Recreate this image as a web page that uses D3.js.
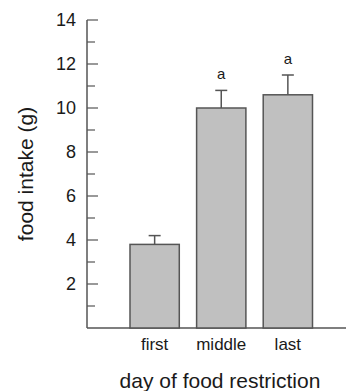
<!DOCTYPE html>
<html>
<head>
<meta charset="utf-8">
<script src="https://d3js.org/d3.v7.min.js"></script>
<style>
  body { margin: 0; background: #fff; }
  text { font-family: "Liberation Sans", Arial, sans-serif; fill: #1a1a1a; }
</style>
</head>
<body>
<div id="chart"></div>
<script>
var svgWidth = 346;
var svgHeight = 391;

// data
var days = ["first", "middle", "last"];
var intake = [3.8, 10.0, 10.6];
var errUpper = [4.2, 10.8, 11.5];
var sigLabels = ["", "a", "a"];
var majorTicks = [2, 4, 6, 8, 10, 12, 14];
var minorTicks = [1, 3, 5, 7, 9, 11, 13];

var axisColor = "#555";

var svg = d3.select("#chart")
  .append("svg")
  .attr("width", svgWidth)
  .attr("height", svgHeight);

var yScale = d3.scaleLinear()
  .domain([0, 14])
  .range([328, 20]);

var xScale = d3.scaleBand()
  .domain(days)
  .range([130, 312.5])
  .paddingInner(0.26)
  .paddingOuter(0);

var axisX = 87;

// y axis line
svg.append("line")
  .attr("x1", axisX).attr("x2", axisX)
  .attr("y1", yScale(14)).attr("y2", yScale(0))
  .attr("stroke", axisColor).attr("stroke-width", 1.5);

// x axis line
svg.append("line")
  .attr("x1", axisX).attr("x2", 346)
  .attr("y1", yScale(0)).attr("y2", yScale(0))
  .attr("stroke", axisColor).attr("stroke-width", 1.5);

// major ticks (inward)
svg.selectAll(".major")
  .data(majorTicks)
  .enter()
  .append("line")
  .attr("x1", axisX).attr("x2", axisX + 11)
  .attr("y1", d => yScale(d)).attr("y2", d => yScale(d))
  .attr("stroke", axisColor).attr("stroke-width", 1.2);

// minor ticks
svg.selectAll(".minor")
  .data(minorTicks)
  .enter()
  .append("line")
  .attr("x1", axisX).attr("x2", axisX + 8)
  .attr("y1", d => yScale(d)).attr("y2", d => yScale(d))
  .attr("stroke", axisColor).attr("stroke-width", 1.2);

// tick labels
svg.selectAll(".ylab")
  .data(majorTicks)
  .enter()
  .append("text")
  .attr("x", 76)
  .attr("y", d => yScale(d))
  .attr("dy", "0.36em")
  .attr("text-anchor", "end")
  .attr("font-size", 18)
  .text(d => d);

// bars
svg.selectAll(".bar")
  .data(intake)
  .enter()
  .append("rect")
  .attr("x", (d, i) => xScale(days[i]))
  .attr("y", d => yScale(d))
  .attr("width", xScale.bandwidth())
  .attr("height", d => yScale(0) - yScale(d))
  .attr("fill", "#c0c0c0")
  .attr("stroke", axisColor)
  .attr("stroke-width", 1.5);

// error bars (upper only)
svg.selectAll(".err")
  .data(errUpper)
  .enter()
  .append("line")
  .attr("x1", (d, i) => xScale(days[i]) + xScale.bandwidth() / 2)
  .attr("x2", (d, i) => xScale(days[i]) + xScale.bandwidth() / 2)
  .attr("y1", (d, i) => yScale(intake[i]))
  .attr("y2", d => yScale(d))
  .attr("stroke", axisColor).attr("stroke-width", 1.5);

svg.selectAll(".cap")
  .data(errUpper)
  .enter()
  .append("line")
  .attr("x1", (d, i) => xScale(days[i]) + xScale.bandwidth() / 2 - 6)
  .attr("x2", (d, i) => xScale(days[i]) + xScale.bandwidth() / 2 + 6)
  .attr("y1", d => yScale(d))
  .attr("y2", d => yScale(d))
  .attr("stroke", axisColor).attr("stroke-width", 1.5);

// significance letters
svg.selectAll(".sig")
  .data(sigLabels)
  .enter()
  .append("text")
  .attr("x", (d, i) => xScale(days[i]) + xScale.bandwidth() / 2)
  .attr("y", (d, i) => yScale(errUpper[i]) - 11)
  .attr("text-anchor", "middle")
  .attr("font-size", 15)
  .text(d => d);

// category labels
svg.selectAll(".xlab")
  .data(days)
  .enter()
  .append("text")
  .attr("x", d => xScale(d) + xScale.bandwidth() / 2)
  .attr("y", 350)
  .attr("text-anchor", "middle")
  .attr("font-size", 17)
  .text(d => d);

// axis titles
svg.append("text")
  .attr("x", 220)
  .attr("y", 388)
  .attr("text-anchor", "middle")
  .attr("font-size", 21)
  .text("day of food restriction");

svg.append("text")
  .attr("transform", "translate(33, 174) rotate(-90)")
  .attr("text-anchor", "middle")
  .attr("font-size", 21)
  .text("food intake (g)");
</script>
</body>
</html>
